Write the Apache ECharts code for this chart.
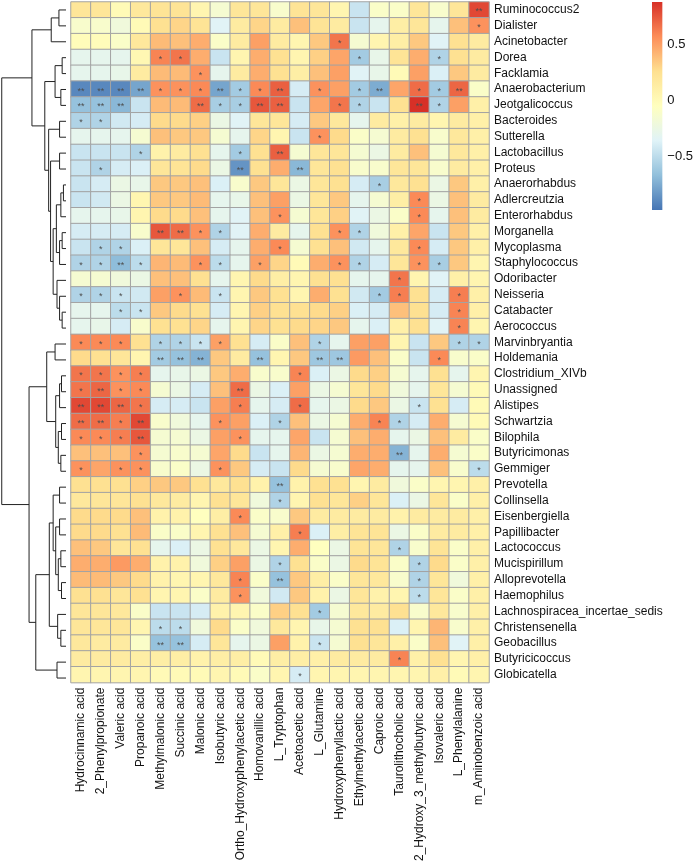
<!DOCTYPE html>
<html><head><meta charset="utf-8">
<script src="https://cdn.jsdelivr.net/npm/echarts@6/dist/echarts.min.js"></script>
<style>html,body{margin:0;padding:0;background:#fff}#c{width:696px;height:864px}</style>
</head><body><div id="c"></div>
<script>
const rows = ["Ruminococcus2","Dialister","Acinetobacter","Dorea","Facklamia","Anaerobacterium","Jeotgalicoccus","Bacteroides","Sutterella","Lactobacillus","Proteus","Anaerorhabdus","Adlercreutzia","Enterorhabdus","Morganella","Mycoplasma","Staphylococcus","Odoribacter","Neisseria","Catabacter","Aerococcus","Marvinbryantia","Holdemania","Clostridium_XIVb","Unassigned","Alistipes","Schwartzia","Bilophila","Butyricimonas","Gemmiger","Prevotella","Collinsella","Eisenbergiella","Papillibacter","Lactococcus","Mucispirillum","Alloprevotella","Haemophilus","Lachnospiracea_incertae_sedis","Christensenella","Geobacillus","Butyricicoccus","Globicatella"];
const cols = ["Hydrocinnamic acid","2_Phenylpropionate","Valeric acid","Propanoic acid","Methylmalonic acid","Succinic acid","Malonic acid","Isobutyric acid","Ortho_Hydroxyphenylacetic acid","Homovanillic acid","L_Tryptophan","Acetoacetic acid","L_Glutamine","Hydroxyphenyllactic acid","Ethylmethylacetic acid","Caproic acid","Taurolithocholic acid","2_Hydroxy_3_methylbutyric acid","Isovaleric acid","L_Phenylalanine","m_Aminobenzoic acid"];
const values = [
[0.2,0.2,0.0,0.18,0.22,0.22,0.05,-0.15,0.2,0.2,-0.12,0.22,0.2,0.05,-0.45,-0.1,-0.1,0.2,-0.12,0.2,0.8],
[-0.12,-0.12,-0.2,0.0,0.25,0.3,0.22,-0.35,0.15,0.3,0.15,0.38,0.22,0.15,-0.45,-0.3,0.12,0.2,-0.3,0.38,0.55],
[-0.02,-0.02,-0.1,0.18,0.4,0.38,0.45,-0.1,0.15,0.5,0.15,0.05,0.35,0.65,-0.15,0.05,0.12,0.35,-0.35,0.25,0.15],
[-0.3,-0.3,-0.3,0.03,0.6,0.65,0.45,-0.45,0.05,0.45,0.25,0.05,0.32,0.48,-0.6,-0.28,0.22,0.45,-0.55,0.25,0.15],
[-0.3,-0.3,-0.28,0.15,0.4,0.4,0.55,-0.3,0.15,0.45,0.25,0.12,0.38,0.5,-0.35,-0.28,0.0,0.5,-0.38,0.35,0.15],
[-0.9,-0.9,-0.9,-0.78,0.55,0.55,0.58,-0.78,-0.6,0.58,0.72,-0.4,0.55,0.5,-0.6,-0.75,0.48,0.68,-0.6,0.7,-0.1],
[-0.65,-0.65,-0.7,-0.45,0.4,0.4,0.68,-0.58,-0.58,0.75,0.72,-0.45,0.48,0.65,-0.55,-0.45,0.25,0.88,-0.55,0.5,0.1],
[-0.55,-0.55,-0.42,-0.4,0.28,0.28,0.32,-0.25,-0.35,0.2,0.2,-0.4,0.35,0.18,-0.3,0.15,0.1,0.15,0.05,0.15,0.1],
[-0.3,-0.3,-0.3,-0.15,0.38,0.35,0.35,-0.15,-0.3,0.3,0.05,-0.45,0.55,0.28,-0.1,-0.15,0.15,0.25,-0.12,0.18,0.1],
[-0.45,-0.45,-0.45,-0.55,0.08,0.15,0.25,-0.3,-0.6,0.25,0.72,-0.15,0.2,0.2,-0.15,-0.25,0.15,0.38,-0.15,0.18,0.1],
[-0.45,-0.55,-0.4,-0.38,0.2,0.22,0.28,-0.25,-0.85,0.25,0.45,-0.7,0.2,0.25,-0.12,-0.12,0.2,0.2,-0.12,0.15,0.1],
[-0.45,-0.4,-0.25,-0.28,0.35,0.35,0.38,-0.38,-0.12,0.35,0.2,-0.25,0.2,0.25,-0.4,-0.58,0.18,0.25,-0.25,0.35,0.1],
[-0.45,-0.42,-0.25,0.05,0.35,0.35,0.4,-0.3,-0.28,0.38,0.5,-0.25,0.2,0.35,-0.3,-0.15,0.12,0.58,-0.25,0.38,0.15],
[-0.3,-0.3,-0.28,0.05,0.28,0.28,0.38,-0.3,-0.35,0.38,0.55,-0.15,0.2,0.32,-0.35,-0.25,-0.1,0.58,-0.3,0.38,0.15],
[-0.4,-0.4,-0.4,-0.12,0.75,0.68,0.55,-0.55,-0.35,0.45,0.15,-0.3,0.25,0.55,-0.55,-0.2,0.1,0.48,-0.45,0.35,0.1],
[-0.45,-0.55,-0.55,-0.38,0.2,0.2,0.38,-0.4,-0.3,0.45,0.58,-0.15,0.25,0.38,-0.42,-0.3,0.18,0.58,-0.4,0.35,0.1],
[-0.55,-0.55,-0.68,-0.5,0.42,0.4,0.55,-0.5,-0.3,0.5,0.3,0.0,0.45,0.55,-0.55,-0.4,0.2,0.55,-0.58,0.35,0.05],
[-0.15,-0.15,-0.2,-0.25,0.38,0.38,0.25,-0.3,0.05,0.28,0.12,0.05,0.25,0.25,-0.3,-0.3,0.65,0.05,-0.35,0.1,0.05],
[-0.55,-0.55,-0.45,-0.42,0.5,0.55,0.4,-0.45,0.05,0.35,0.25,0.05,0.45,0.25,-0.42,-0.6,0.62,0.25,-0.4,0.62,0.1],
[-0.3,-0.3,-0.5,-0.45,0.35,0.28,0.25,-0.4,0.05,0.32,0.25,0.25,0.28,0.32,-0.38,-0.4,0.38,0.25,-0.4,0.6,0.1],
[-0.3,-0.28,-0.4,-0.12,0.25,0.25,0.3,-0.3,0.05,0.3,0.25,0.28,0.3,0.35,-0.3,-0.38,0.1,0.25,-0.35,0.6,0.05],
[0.58,0.58,0.58,0.25,-0.55,-0.55,-0.45,0.5,0.25,-0.4,-0.1,0.38,-0.55,-0.3,0.5,0.5,0.05,-0.45,0.35,-0.55,-0.55],
[0.28,0.25,0.2,0.05,-0.6,-0.65,-0.72,0.35,0.15,-0.65,0.05,0.35,-0.62,-0.62,0.52,0.38,-0.1,-0.45,0.58,-0.12,-0.1],
[0.65,0.65,0.55,0.62,-0.3,-0.28,-0.25,0.35,0.45,-0.12,-0.12,0.6,-0.38,-0.25,0.28,0.32,-0.15,-0.3,0.25,-0.3,0.05],
[0.65,0.7,0.55,0.58,-0.15,-0.25,-0.4,0.38,0.68,-0.25,-0.38,0.5,-0.25,-0.15,0.2,0.28,-0.2,-0.3,0.2,-0.15,0.0],
[0.8,0.8,0.7,0.65,-0.4,-0.4,-0.45,0.5,0.62,-0.3,-0.4,0.68,-0.3,-0.25,0.28,0.35,-0.25,-0.45,0.25,-0.4,0.0],
[0.68,0.68,0.62,0.8,-0.12,-0.2,-0.3,0.55,0.5,-0.38,-0.55,0.38,-0.25,-0.15,0.45,0.6,-0.55,-0.4,0.45,-0.15,0.0],
[0.58,0.58,0.62,0.75,-0.15,-0.15,-0.25,0.5,0.55,-0.3,-0.3,0.48,-0.45,-0.15,0.38,0.45,-0.3,-0.25,0.38,0.15,-0.1],
[0.38,0.38,0.38,0.55,-0.15,-0.12,-0.15,0.48,0.28,-0.45,-0.3,0.42,-0.25,-0.15,0.45,0.45,-0.72,-0.3,0.45,-0.15,-0.1],
[0.55,0.48,0.55,0.55,-0.12,-0.1,-0.25,0.55,0.35,-0.4,-0.45,0.28,-0.15,-0.12,0.48,0.45,-0.3,-0.3,0.38,-0.12,-0.5],
[0.25,0.25,0.25,0.32,0.35,0.35,0.25,0.18,0.25,0.08,-0.65,0.08,0.25,0.25,0.05,0.15,-0.2,-0.1,0.05,0.05,0.1],
[0.18,0.2,0.2,0.25,0.18,0.15,0.05,0.25,0.2,-0.2,-0.55,0.05,0.25,0.2,0.32,0.2,-0.38,-0.25,0.2,-0.1,0.1],
[0.28,0.28,0.28,0.38,0.08,0.08,-0.05,0.12,0.58,-0.1,-0.12,0.35,0.15,0.15,0.15,0.15,0.08,0.15,0.15,0.15,0.1],
[0.28,0.28,0.25,0.4,-0.1,-0.1,0.05,0.25,0.38,-0.15,0.1,0.62,-0.38,0.12,0.22,0.22,-0.25,-0.1,0.15,0.15,0.1],
[0.38,0.35,0.2,0.25,-0.3,-0.38,-0.25,0.25,0.18,-0.25,0.05,0.45,-0.05,-0.25,0.22,0.2,-0.55,-0.12,0.22,-0.1,0.1],
[0.45,0.45,0.52,0.45,0.08,0.08,-0.2,0.32,0.5,-0.25,-0.55,0.25,-0.1,-0.25,0.28,0.22,-0.1,-0.55,0.28,-0.1,0.1],
[0.4,0.4,0.35,0.28,0.08,0.05,0.05,0.18,0.6,-0.1,-0.65,0.35,0.12,-0.1,0.2,0.18,-0.12,-0.55,0.2,-0.2,0.1],
[0.25,0.25,0.2,0.25,0.05,0.05,-0.1,0.15,0.55,-0.2,-0.42,0.35,0.08,-0.25,0.2,0.08,0.05,-0.5,0.2,-0.1,0.1],
[0.2,0.2,0.18,-0.1,-0.45,-0.45,-0.4,0.08,0.05,-0.1,0.32,0.25,-0.6,-0.15,0.18,0.15,0.25,-0.12,0.18,-0.12,0.1],
[0.2,0.2,0.2,0.05,-0.5,-0.5,-0.2,0.28,-0.1,-0.2,0.18,0.05,-0.28,-0.15,0.25,0.25,-0.38,0.05,0.42,-0.12,0.1],
[0.18,0.15,0.15,-0.1,-0.65,-0.65,-0.4,0.2,-0.3,-0.25,0.5,0.08,-0.45,-0.15,0.25,0.2,0.1,-0.1,0.38,-0.35,0.1],
[0.15,0.15,0.15,0.12,0.12,0.12,0.08,0.12,0.12,0.0,0.12,0.12,0.1,0.15,0.15,0.15,0.6,0.1,0.25,0.05,0.1],
[0.05,0.05,0.05,0.05,0.0,0.0,0.0,0.05,0.0,-0.1,0.05,-0.4,0.05,0.05,0.05,0.05,0.05,0.05,0.1,0.0,0.05]
];
// significance: 0 none, 1 "*", 2 "**"
const stars = [
"000000000000000000002","000000000000000000001","000000000000010000000","000011000000001000100",
"000000100000000000000","222211121120101201120","222000211220011002100","110000000000000000000",
"000000000000100000000","000100001020000000000","010000002002000000000","000000000000000100000",
"000000000000000001000","000000000010000001000","000022110000011000000","011000000010000001000",
"112100110100011001100","000000000000000010000","111001010000000110010","001100000000000000010",
"000000000000000000010","111011110000100000011","000022200200220000100","111100000001000000000",
"121100002000000000000","222100001001000001000","221200010010000110000","111200001000000000000",
"000100000000000020000","101100010000000000001","000000000020000000000","000000000010000000000",
"000000001000000000000","000000000001000000000","000000000000000010000","000000000010000001000",
"000000001020000001000","000000001000000001000","000000000000100000000","000011000000000000000",
"000022000000100000000","000000000000000010000","000000000001000000000"
];
// hclust-style merges: negative = leaf -(row+1), positive = earlier merge (1-based); third = height
const merges = [
[-1,-2,0.11],[1,-3,0.23],[-4,-5,0.06],[-6,-7,0.08],[3,4,0.17],
[-8,-9,0.1],[-10,-11,0.1],[-12,-13,0.04],[8,-14,0.08],[-15,-16,0.06],
[10,-17,0.1],[9,11,0.15],[-20,-21,0.06],[-19,13,0.1],[-18,14,0.14],
[12,15,0.2],[7,16,0.24],[6,17,0.27],[5,18,0.33],[2,19,0.53],
[-22,-23,0.17],[-24,-25,0.07],[22,-26,0.1],[-27,-28,0.07],[-29,-30,0.08],
[24,25,0.12],[23,26,0.16],[21,27,0.3],
[-31,-32,0.1],[-33,-34,0.1],[-35,-36,0.08],[-37,-38,0.07],[31,32,0.12],
[30,33,0.16],[29,34,0.2],[-40,-41,0.08],[-39,36,0.13],[35,37,0.26],
[-42,-43,0.14],[38,39,0.47],[28,40,0.575],[20,41,1.0]
];
const colorbarTicks = [-0.5, 0, 0.5];
const valueMin = -0.98, valueMax = 0.88;
const palette = ['#4575B4','#91BFDB','#E0F3F8','#FFFFBF','#FEE090','#FC8D59','#D73027'];

const heatData = [];
values.forEach((r, i) => r.forEach((v, j) => heatData.push([j, i, v])));
const starTxt = ['', '*', '**'];

const nodeY = [], nodeH = [];
function pos(ref){ return ref < 0 ? [-ref - 1, 0] : [nodeY[ref - 1], nodeH[ref - 1]]; }
const dendroSegs = merges.map(([a, b, h], k) => {
  const [ya, ha] = pos(a), [yb, hb] = pos(b);
  nodeY[k] = (ya + yb) / 2; nodeH[k] = h;
  return [ha, ya, hb, yb, h];
});

const chart = echarts.init(document.getElementById('c'), null, {renderer: 'canvas'});
const FONT = 'Liberation Sans, Arial, Helvetica, sans-serif';
const nR = rows.length;
chart.setOption({
  animation: false,
  backgroundColor: '#fff',
  grid: [
    {left: 71, top: 2, width: 418, height: 684},
    {left: 0, top: 2, width: 66, height: 684},
    {left: 652, top: 2, width: 13, height: 208}
  ],
  xAxis: [
    {type: 'category', data: cols, gridIndex: 0, position: 'bottom',
     axisLine: {show: false}, axisTick: {show: false}, splitLine: {show: false},
     axisLabel: {rotate: 90, interval: 0, margin: 5, fontSize: 12, color: '#111', fontFamily: FONT}},
    {type: 'value', gridIndex: 1, inverse: true, min: 0, max: 1.027, show: false},
    {type: 'value', gridIndex: 2, min: 0, max: 1, show: false}
  ],
  yAxis: [
    {type: 'category', data: rows, gridIndex: 0, inverse: true, position: 'right',
     axisLine: {show: false}, axisTick: {show: false}, splitLine: {show: false},
     axisLabel: {interval: 0, margin: 5, fontSize: 12, color: '#111', fontFamily: FONT}},
    {type: 'value', gridIndex: 1, inverse: true, min: -0.5, max: nR - 0.5, show: false},
    {type: 'value', gridIndex: 2, min: valueMin, max: valueMax, position: 'right',
     axisLine: {show: false}, axisTick: {show: false}, splitLine: {show: false},
     axisLabel: {customValues: colorbarTicks, margin: 5, fontSize: 13, color: '#111', fontFamily: FONT,
       formatter: v => String(v).replace('-', '\u2212')}}
  ],
  visualMap: {show: false, seriesIndex: 0, dimension: 2, min: valueMin, max: valueMax, inRange: {color: palette}},
  series: [
    {type: 'heatmap', xAxisIndex: 0, yAxisIndex: 0, data: heatData,
     itemStyle: {borderColor: '#a3a3a3', borderWidth: 1},
     label: {show: true, color: '#4d4d4d', fontSize: 9, offset: [0, 2], fontFamily: FONT,
       formatter: p => starTxt[+stars[p.value[1]][p.value[0]]]},
     emphasis: {disabled: true}},
    {type: 'custom', xAxisIndex: 1, yAxisIndex: 1, data: dendroSegs,
     renderItem: (params, api) => {
       const ha = api.value(0), ya = api.value(1), hb = api.value(2), yb = api.value(3), h = api.value(4);
       const p = [api.coord([ha, ya]), api.coord([h, ya]), api.coord([h, yb]), api.coord([hb, yb])];
       return {type: 'polyline', shape: {points: p}, style: {stroke: '#222', lineWidth: 1, fill: null}};
     }},
    {type: 'custom', xAxisIndex: 2, yAxisIndex: 2, data: [[0, valueMin, 1, valueMax]],
     renderItem: (params, api) => {
       const p0 = api.coord([api.value(0), api.value(3)]), p1 = api.coord([api.value(2), api.value(1)]);
       const stops = palette.slice().reverse().map((c, i) => ({offset: i / (palette.length - 1), color: c}));
       return {type: 'rect', shape: {x: p0[0], y: p0[1], width: p1[0] - p0[0], height: p1[1] - p0[1]},
         style: {fill: new echarts.graphic.LinearGradient(0, 0, 0, 1, stops)}};
     }}
  ]
});
</script></body></html>
